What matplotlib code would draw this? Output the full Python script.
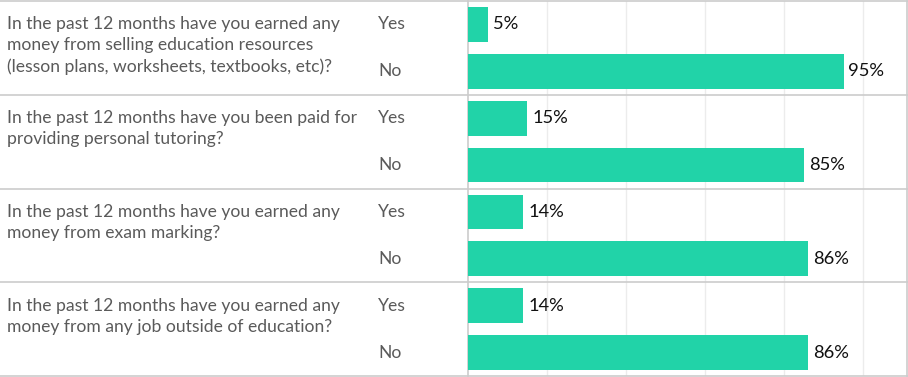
import matplotlib.pyplot as plt
import matplotlib.transforms as mtransforms

plt.rcParams['font.family'] = ['Lato', 'DejaVu Sans']

# survey data
questions = [
    "In the past 12 months have you earned any\nmoney from selling education resources\n(lesson plans, worksheets, textbooks, etc)?",
    "In the past 12 months have you been paid for\nproviding personal tutoring?",
    "In the past 12 months have you earned any\nmoney from exam marking?",
    "In the past 12 months have you earned any\nmoney from any job outside of education?",
]
answers = ["Yes", "No"]
yes_pct = [5, 15, 14, 14]
no_pct = [95, 85, 86, 86]

bar_color = "#21d3a8"
text_color = "#5a5a5a"
line_color = "#cccccc"
grid_color = "#ececec"

W, H = 908, 377
fig = plt.figure(figsize=(W / 100, H / 100), dpi=100)
ax = fig.add_axes([468 / W, 1 / H, (907 - 468) / W, 375 / H])

n = len(questions)
ax.set_xlim(0, 111)
ax.set_ylim(2 * n, 0)

for i in range(n):
    vals = [yes_pct[i], no_pct[i]]
    for j, v in enumerate(vals):
        y = 2 * i + j + 0.5
        ax.barh(y, v, height=0.74, color=bar_color, zorder=3)
        ax.text(v + 1.2, y, f"{v}%", va="center", ha="left",
                fontsize=13.2, color="#111111", zorder=4)

ax.set_xticks(range(20, 101, 20))
ax.grid(axis="x", color=grid_color, linewidth=1, zorder=0)
ax.set_yticks([])
ax.tick_params(axis="x", length=0, labelbottom=False)
for side in ["top", "bottom", "right"]:
    ax.spines[side].set_visible(False)
ax.spines["left"].set_color(line_color)
ax.spines["left"].set_linewidth(1.2)

# row separators across whole figure, labels on the left
tr = mtransforms.blended_transform_factory(fig.transFigure, ax.transData)
slot_px = 375 / (2 * n)
line_gap = 21 / slot_px
for k in range(n + 1):
    ax.plot([0, 1], [2 * k, 2 * k], transform=tr, color=line_color,
            linewidth=1.2, clip_on=False, zorder=5)
ax.plot([906.5 / W, 906.5 / W], [0, 2 * n], transform=tr, color=line_color,
        linewidth=1.2, clip_on=False, zorder=5)

for i, q in enumerate(questions):
    for m, line in enumerate(q.split("\n")):
        ax.text(7 / W, 2 * i + 0.5 + m * line_gap, line, transform=tr,
                va="center", ha="left", fontsize=12.6, color=text_color)
    for j, a in enumerate(answers):
        ax.text(378 / W, 2 * i + j + 0.5, a, transform=tr,
                va="center", ha="left", fontsize=12.6, color=text_color)

fig.savefig("out.png", dpi=100)
